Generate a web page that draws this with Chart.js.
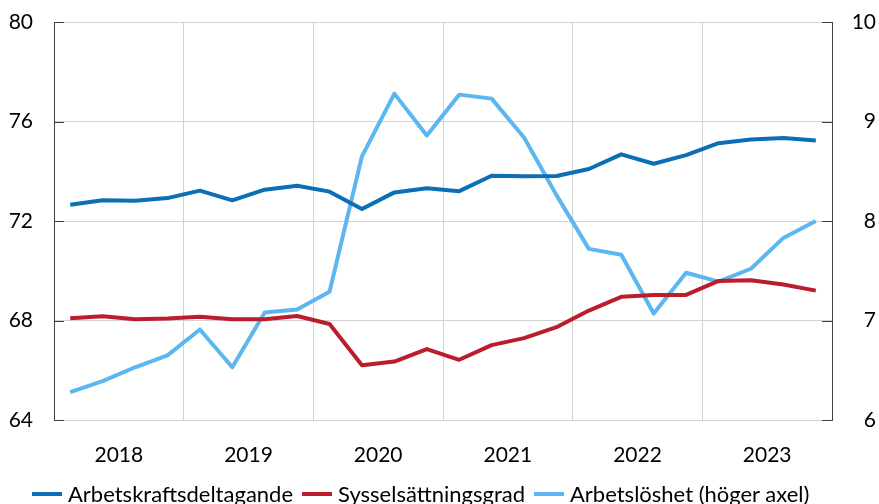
<!DOCTYPE html>
<html>
<head>
<meta charset="utf-8">
<script src="https://cdn.jsdelivr.net/npm/chart.js@4.4.1/dist/chart.umd.min.js"></script>
<style>
  html, body { margin: 0; padding: 0; background: #fff; }
  #wrap { position: relative; width: 879px; height: 504px; overflow: hidden; }
  #c { position: absolute; left: 0; top: 0; }
  #legend { position: absolute; left: 32px; top: 481px; display: flex; align-items: center;
            font-family: Lato, sans-serif; font-size: 22px; color: #000; white-space: nowrap; line-height: 26px; }
  .item { display: flex; align-items: center; margin-right: 9px; }
  .swatch { width: 30px; height: 4px; margin-right: 6px; }
</style>
</head>
<body>
<div id="wrap">
  <canvas id="c" width="879" height="504"></canvas>
  <div id="legend"></div>
</div>
<script>
// Quarterly data 2018 Q1 – 2023 Q4
const quarters = ['2018 K1','2018 K2','2018 K3','2018 K4','2019 K1','2019 K2','2019 K3','2019 K4',
                  '2020 K1','2020 K2','2020 K3','2020 K4','2021 K1','2021 K2','2021 K3','2021 K4',
                  '2022 K1','2022 K2','2022 K3','2022 K4','2023 K1','2023 K2','2023 K3','2023 K4'];
const years = [2018, 2019, 2020, 2021, 2022, 2023];
const seriesNames = ['Arbetskraftsdeltagande', 'Sysselsättningsgrad', 'Arbetslöshet (höger axel)'];
const participation = [72.65, 72.83, 72.81, 72.92, 73.22, 72.83, 73.26, 73.42, 73.18, 72.48, 73.15, 73.32,
                       73.20, 73.82, 73.80, 73.81, 74.09, 74.68, 74.30, 74.65, 75.13, 75.28, 75.34, 75.24];
const employment = [68.09, 68.17, 68.05, 68.08, 68.15, 68.05, 68.05, 68.18, 67.86, 66.20, 66.35, 66.85,
                    66.42, 67.01, 67.29, 67.73, 68.40, 68.95, 69.03, 69.03, 69.59, 69.62, 69.45, 69.20];
const unemployment = [6.28, 6.39, 6.53, 6.65, 6.91, 6.53, 7.08, 7.11, 7.29, 8.65, 9.28, 8.86,
                      9.27, 9.23, 8.84, 8.26, 7.72, 7.66, 7.07, 7.48, 7.39, 7.52, 7.83, 8.00];
const leftTicks = [64, 68, 72, 76, 80];
const rightTicks = [6, 7, 8, 9, 10];

const colors = ['#0b6fb5', '#bb1d2c', '#5cb6ef'];

// position of a quarter on the time axis (middle of the quarter)
function qx(label) {
  const y = parseInt(label.slice(0, 4), 10);
  const q = parseInt(label.slice(-1), 10);
  return y + (q - 0.5) / 4;
}
const toPts = arr => arr.map((v, i) => ({ x: qx(quarters[i]), y: v }));

const FONT = 'Lato, sans-serif';
const AXIS_COLOR = '#404040';
const GRID_COLOR = '#d2d2d2';
const NONE = 'rgba(0,0,0,0)';

const innerTicks = {
  id: 'innerTicks',
  afterDatasetsDraw(chart) {
    const { ctx, chartArea } = chart;
    ctx.save();
    ctx.strokeStyle = AXIS_COLOR;
    ctx.lineWidth = 1;
    const yl = chart.scales.y, yr = chart.scales.y1;
    leftTicks.forEach(v => {
      const p = Math.round(yl.getPixelForValue(v)) + 0.5;
      ctx.beginPath(); ctx.moveTo(chartArea.left, p); ctx.lineTo(chartArea.left + 10, p); ctx.stroke();
    });
    rightTicks.forEach(v => {
      const p = Math.round(yr.getPixelForValue(v)) + 0.5;
      ctx.beginPath(); ctx.moveTo(chartArea.right - 10, p); ctx.lineTo(chartArea.right, p); ctx.stroke();
    });
    ctx.restore();
  }
};

const chart = new Chart(document.getElementById('c'), {
  type: 'line',
  data: {
    datasets: [
      { label: seriesNames[0], data: toPts(participation), yAxisID: 'y', borderColor: colors[0] },
      { label: seriesNames[1], data: toPts(employment), yAxisID: 'y', borderColor: colors[1] },
      { label: seriesNames[2], data: toPts(unemployment), yAxisID: 'y1', borderColor: colors[2] }
    ]
  },
  options: {
    responsive: false,
    animation: false,
    devicePixelRatio: 1,
    layout: { padding: { left: 0, right: 3, top: 22, bottom: 37 } },
    elements: {
      line: { borderWidth: 4, tension: 0, borderJoinStyle: 'round', borderCapStyle: 'butt', fill: false },
      point: { radius: 0, hoverRadius: 0 }
    },
    plugins: { legend: { display: false }, tooltip: { enabled: false } },
    scales: {
      x: {
        type: 'linear',
        min: years[0],
        max: years[years.length - 1] + 1,
        afterBuildTicks(scale) {
          const t = [];
          years.forEach(y => { t.push({ value: y }); t.push({ value: y + 0.5 }); });
          t.push({ value: years[years.length - 1] + 1 });
          scale.ticks = t;
        },
        afterFit(scale) { scale.height = 47; },
        ticks: {
          autoSkip: false, maxRotation: 0, minRotation: 0, padding: 23,
          color: '#000', font: { family: FONT, size: 21 },
          callback: v => (Math.abs(v % 1 - 0.5) < 1e-6 ? String(Math.floor(v)) : '')
        },
        grid: {
          drawTicks: false,
          color: ctx => (ctx.tick && Math.abs(ctx.tick.value % 1) < 1e-6 ? GRID_COLOR : NONE),
          lineWidth: 1
        },
        border: { display: false }
      },
      y: {
        position: 'left',
        min: 64, max: 80,
        afterBuildTicks(scale) { scale.ticks = leftTicks.map(v => ({ value: v })); },
        afterFit(scale) { scale.width = 54; },
        ticks: { padding: 0, color: '#000', font: { family: FONT, size: 21 } },
        grid: { drawTicks: true, tickLength: 21, tickColor: NONE, color: GRID_COLOR, lineWidth: 1 },
        border: { display: true, color: AXIS_COLOR, width: 1 }
      },
      y1: {
        position: 'right',
        min: 6, max: 10,
        afterBuildTicks(scale) { scale.ticks = rightTicks.map(v => ({ value: v })); },
        afterFit(scale) { scale.width = 44; },
        ticks: { padding: 0, crossAlign: 'far', color: '#000', font: { family: FONT, size: 21 } },
        grid: { drawOnChartArea: false, drawTicks: false },
        border: { display: true, color: AXIS_COLOR, width: 1 }
      }
    }
  },
  plugins: [innerTicks]
});

// legend built from the series names / colours
const lg = document.getElementById('legend');
seriesNames.forEach((n, i) => {
  const it = document.createElement('div'); it.className = 'item';
  const sw = document.createElement('span'); sw.className = 'swatch'; sw.style.background = colors[i];
  const tx = document.createElement('span'); tx.textContent = n;
  it.appendChild(sw); it.appendChild(tx); lg.appendChild(it);
});
</script>
</body>
</html>
